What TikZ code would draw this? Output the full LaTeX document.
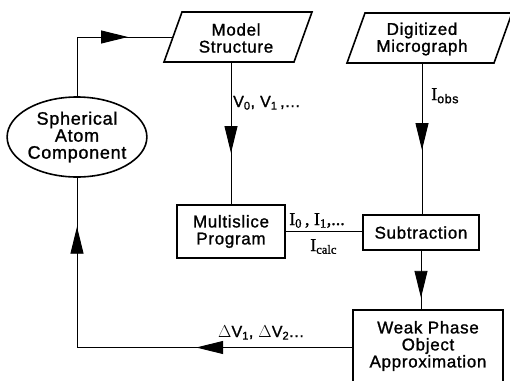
\documentclass[tikz,border=0pt]{standalone}
\usepackage{fontspec}
\setmainfont{Liberation Sans}[FakeBold=1.2, LetterSpace=4]
\newfontfamily\serif{Liberation Serif}[FakeBold=1.2]
\usetikzlibrary{arrows.meta,decorations.markings,shapes.geometric}
\tikzset{
  box/.style={draw, line width=1.6pt},
  txt/.style={font=\fontsize{17}{17}\selectfont, align=center, inner sep=0pt},
  lbl/.style={font=\fontsize{16}{16}\selectfont, inner sep=0pt, anchor=base west},
  slbl/.style={lbl, font=\fontsize{18}{18}\selectfont},
  conn/.style={line width=0.9pt},
  bigtip/.style={decoration={markings, mark=at position #1 with {\arrow{Triangle[length=27pt,width=13pt]}}}, postaction={decorate}},
}
\begin{document}
\begin{tikzpicture}[x=1pt,y=-1pt]
\useasboundingbox (0,0) rectangle (510,380);
\clip (0,0) rectangle (510,380);
% parallelograms
\draw[box] (164,62) -- (294,62) -- (312,12) -- (182,12) -- cycle;
\node[txt] (model) at (236,38) {Model\\Structure};
\coordinate (modelL) at (173,37);
\coordinate (modelB) at (231,62);
\draw[box] (347,63) -- (494,63) -- (512,13) -- (365,13) -- cycle;
\node[txt] (digi) at (422,39) {Digitized\\Micrograph};
\coordinate (digiB) at (422,63);
% ellipse
\node[ellipse, draw, line width=1.6pt, minimum width=130pt, minimum height=80pt, inner sep=0pt, outer sep=0pt, txt, font=\fontsize{18}{17}\selectfont] (ell) at (77,137) {Spherical\\Atom\\Component};
% boxes
\node[box, minimum width=108pt, minimum height=53pt, txt] (multi) at (231,231.5) {Multislice\\Program};
\node[box, minimum width=116pt, minimum height=35pt, txt] (sub) at (421,232.5) {Subtraction};
\node[box, minimum width=150pt, minimum height=75pt, txt, text depth=0pt] (wpoa) at (428,347.5) {};
\node[txt] (wpoatxt) at (428,346) {Weak Phase\\Object\\Approximation};
% connectors
\draw[conn, bigtip=111pt] (ell.north) |- (modelL);
\draw[conn, bigtip=91pt] (modelB) -- (multi.north);
\draw[conn, bigtip=87pt] (digiB) -- (digiB |- sub.north);
\draw[conn] (multi.east) -- (multi.east -| sub.west);
\draw[conn, bigtip=47pt] (sub.south) -- (sub.south |- wpoa.north);
\draw[conn, decoration={markings,
   mark=at position 156pt with {\arrow{Triangle[length=27pt,width=13pt]}},
   mark=at position 396pt with {\arrow{Triangle[length=27pt,width=13pt]}}}, postaction={decorate}]
   (wpoa.west) -| (ell.south);
% labels
\node[lbl] (v) at (233,107) {V\textsubscript{0}, V\textsubscript{1}\,,...};
\node[slbl] (iobs) at (431,100) {\serif I\textsubscript{\rmfamily obs}};
\node[slbl] (i01) at (289,225) {\serif I\textsubscript{0}\,, I\textsubscript{1},...};
\node[slbl] (icalc) at (310,251) {\serif I\textsubscript{calc}};
\node[lbl] (dv) at (218,337) {$\Delta$V\textsubscript{1}, $\Delta$V\textsubscript{2}...};
\end{tikzpicture}
\end{document}
